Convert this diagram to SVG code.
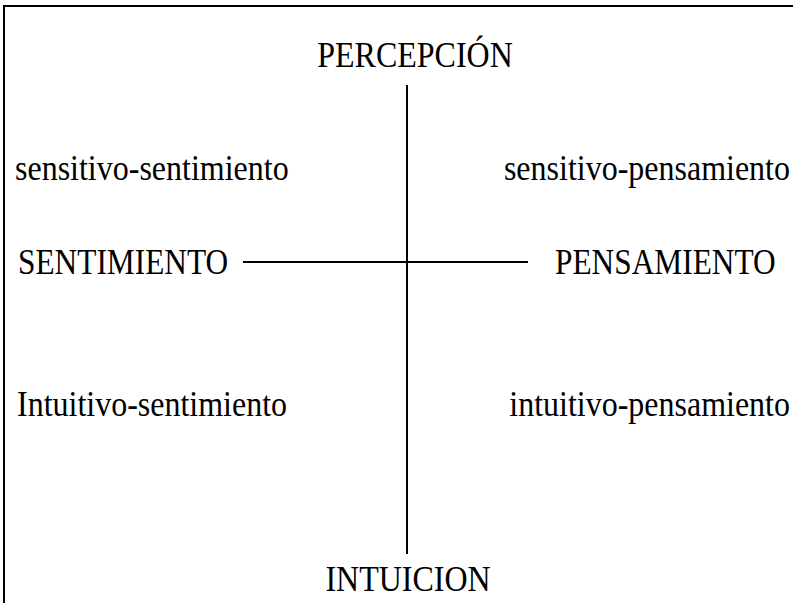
<svg xmlns="http://www.w3.org/2000/svg" width="793" height="603" viewBox="0 0 793 603">
<style>
text { font-family: "Liberation Serif", "Times New Roman", serif; font-size: 32px; fill: #000; }
.ln { stroke: #000; stroke-width: 2; fill: none; }
</style>
<rect width="793" height="603" fill="#fff"/>
<g id="frame">
<polyline class="ln" points="4,603 4,6 793,6"/>
</g>
<g id="connectors">
<line class="ln" x1="407" y1="85" x2="407" y2="554"/>
<line class="ln" x1="243" y1="262" x2="528" y2="262"/>
</g>
<g id="percepcion"><text transform="translate(415,67) scale(1,1.1)" text-anchor="middle">PERCEPCIÓN</text></g>
<g id="sensitivo-sentimiento"><text transform="translate(15,180) scale(1,1.1)">sensitivo-sentimiento</text></g>
<g id="sensitivo-pensamiento"><text transform="translate(790,180) scale(1,1.1)" text-anchor="end">sensitivo-pensamiento</text></g>
<g id="sentimiento"><text transform="translate(18,274) scale(0.98,1.1)">SENTIMIENTO</text></g>
<g id="pensamiento"><text transform="translate(555,274) scale(0.98,1.1)">PENSAMIENTO</text></g>
<g id="intuitivo-sentimiento"><text transform="translate(17,416) scale(1,1.1)">Intuitivo-sentimiento</text></g>
<g id="intuitivo-pensamiento"><text transform="translate(790,416) scale(1,1.1)" text-anchor="end">intuitivo-pensamiento</text></g>
<g id="intuicion"><text transform="translate(408,591) scale(1,1.1)" text-anchor="middle">INTUICION</text></g>
</svg>
